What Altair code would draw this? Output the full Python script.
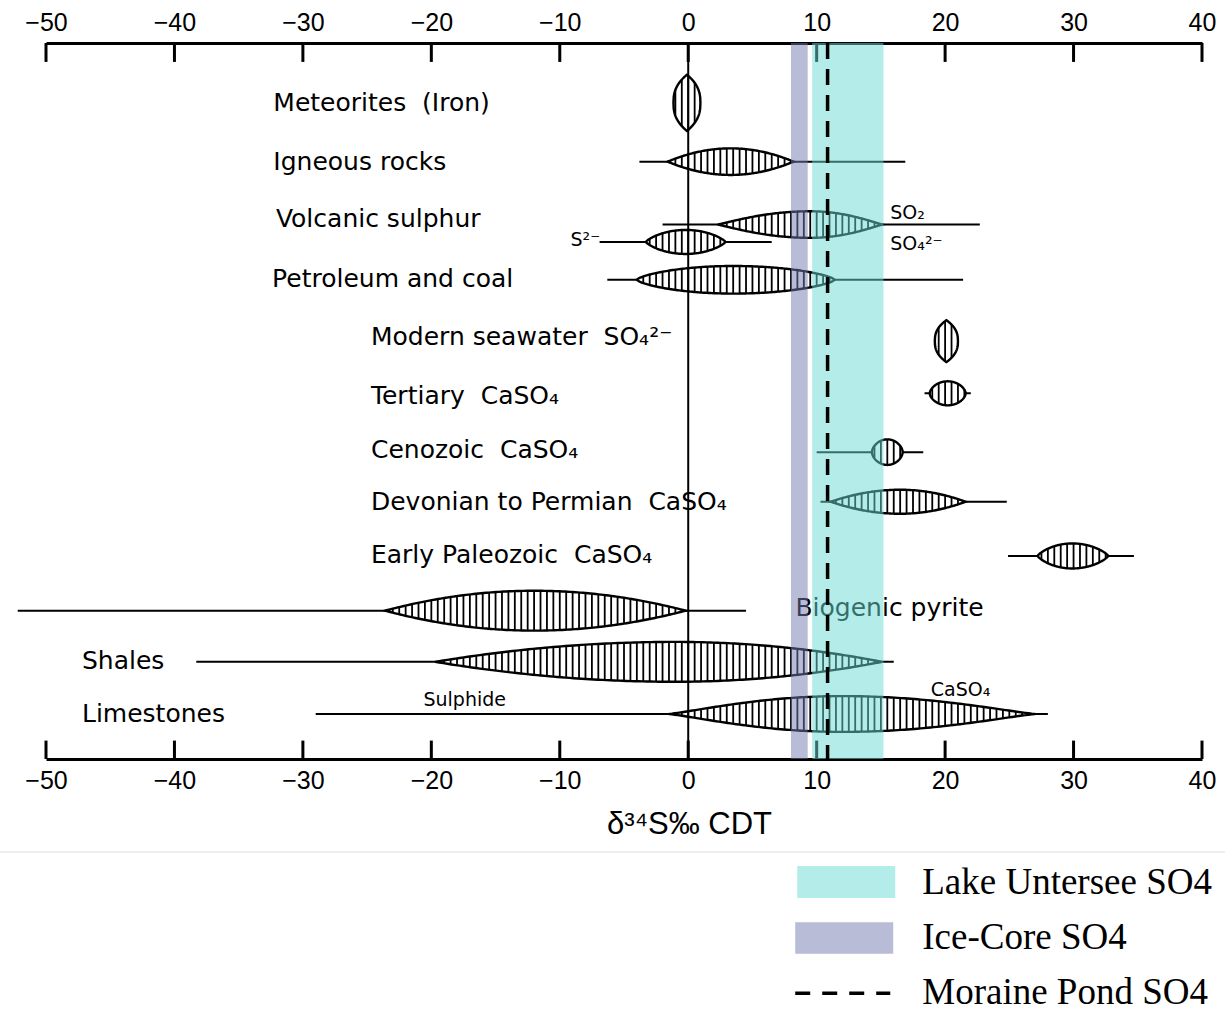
import altair as alt
import numpy as np
import pandas as pd

# ---------------- data ----------------
tick_values = [-50, -40, -30, -20, -10, 0, 10, 20, 30, 40]

row_names = ["Meteorites", "Igneous", "Volcanic SO2", "Volcanic S2-", "Petroleum",
             "Seawater", "Tertiary", "Cenozoic", "Devonian-Permian", "Early Paleozoic",
             "Biogenic pyrite", "Shales", "Limestones"]
row_pos = [1.17, 2.32, 3.55, 3.89, 4.63, 5.83, 6.85, 8.0, 8.97, 10.03, 11.1, 12.1, 13.12]
range_lo = [np.nan, -3.8, -2.0, -6.9, -6.3, np.nan, 18.4, 10.0, 10.3, 24.9, -52.2, -38.3, -29.0]
range_hi = [np.nan, 16.9, 22.7, 6.5, 21.4, np.nan, 22.0, 18.3, 24.8, 34.7, 4.5, 16.0, 28.0]
lens_lo = [-1.15, -1.6, 2.3, -3.3, -4.0, 19.2, 18.8, 14.3, 11.1, 27.2, -23.6, -19.7, -1.5]
lens_peak = [-0.1, 3.3, 9.5, -0.2, 3.5, 20.1, 20.2, 15.5, 16.5, 29.9, -12.0, -1.0, 12.0]
lens_hi = [0.95, 8.2, 15.1, 2.9, 11.4, 21.0, 21.6, 16.7, 21.6, 32.7, -0.2, 15.1, 27.0]
lens_thick = [0.55, 0.26, 0.26, 0.235, 0.27, 0.41, 0.235, 0.25, 0.235, 0.245, 0.39, 0.39, 0.35]
lens_shape = [0, 1.0, 1.1, 0.8, 0.7, 0, 0.6, 0.6, 1.0, 0.8, 1.0, 1.0, 1.2]  # 0 = upright lens

ice_core_band = [8.0, 9.3]
lake_untersee_band = [9.65, 15.2]
moraine_pond = 10.85

NB = "\u00a0"

# ---------------- geometry helpers ----------------
def half_thickness(x, lo, pk, hi, h, q):
    s = (pk - x) / (pk - lo) if x <= pk else (x - pk) / (hi - pk)
    s = min(max(s, 0.0), 1.0)
    if q == 0:
        return h * max(0.0, 1.0 - s) ** 0.4
    return h * max(0.0, 1.0 - s * s) ** q

area_rows, hatch_rows = [], []
for i in range(len(row_names)):
    lo, pk, hi, h, q, yc = lens_lo[i], lens_peak[i], lens_hi[i], lens_thick[i], lens_shape[i], row_pos[i]
    xs_ = np.unique(np.concatenate([np.linspace(lo, pk, 60), np.linspace(pk, hi, 60)]))
    for x in xs_:
        t = half_thickness(x, lo, pk, hi, h, q)
        area_rows.append({"id": i, "x": x, "top": yc - t, "bot": yc + t})
    start = np.ceil(lo / 0.5) * 0.5
    for x in np.arange(start, hi, 0.5):
        if x - lo < 0.08 or hi - x < 0.08:
            continue
        t = half_thickness(x, lo, pk, hi, h, q)
        hatch_rows.append({"x": x, "top": yc - t, "bot": yc + t})

area_df = pd.DataFrame(area_rows)
hatch_df = pd.DataFrame(hatch_rows)
range_df = pd.DataFrame({"lo": range_lo, "hi": range_hi, "y": row_pos}).dropna()

# ---------------- scales ----------------
xs = alt.Scale(domain=[-50, 40], nice=False, zero=False)
ys = alt.Scale(domain=[0, 14], reverse=True, nice=False, zero=False)

ax_common = dict(values=tick_values, ticks=False, tickSize=0, domain=True, domainColor="black",
                 domainWidth=3, grid=False, labelFont="Liberation Sans", labelFontSize=25,
                 labelColor="black", labelFlush=False, labelOverlap=False, labelBound=False,
                 title=None, format="d")

# faint frame of the pasted figure
frame = alt.Chart(pd.DataFrame({"x": [-53.6], "x2": [41.8], "y": [15.82]})).mark_rule(
    color="#e8e8e8", strokeWidth=1.5).encode(
    x=alt.X("x:Q", scale=xs, axis=None), x2="x2:Q", y=alt.Y("y:Q", scale=ys, axis=None))

ranges = alt.Chart(range_df).mark_rule(color="black", strokeWidth=2).encode(
    x=alt.X("lo:Q", scale=xs, axis=None), x2="hi:Q", y=alt.Y("y:Q", scale=ys, axis=None))

lenses = alt.Chart(area_df).mark_area(fill="white", stroke="black", strokeWidth=2.4,
                                      interpolate="linear", orient="vertical").encode(
    x=alt.X("x:Q", scale=xs, axis=None), y=alt.Y("top:Q", scale=ys, axis=None), y2="bot:Q",
    detail="id:N")

hatch = alt.Chart(hatch_df).mark_rule(color="black", strokeWidth=1.8).encode(
    x=alt.X("x:Q", scale=xs, axis=None), y=alt.Y("top:Q", scale=ys, axis=None), y2="bot:Q")

zero_line = alt.Chart(pd.DataFrame({"x": [0], "y": [0], "y2": [14]})).mark_rule(
    color="black", strokeWidth=2).encode(
    x=alt.X("x:Q", scale=xs, axis=None), y=alt.Y("y:Q", scale=ys, axis=None), y2="y2:Q")

tick_df = pd.DataFrame({"x": tick_values})
ticks_top = alt.Chart(tick_df).mark_rule(color="black", strokeWidth=3).encode(
    x=alt.X("x:Q", scale=xs, axis=alt.Axis(orient="top", labelPadding=8, **ax_common)),
    y=alt.Y("y0:Q", scale=ys, axis=None), y2="y1:Q"
).transform_calculate(y0="0", y1="0.37")
ticks_bottom = alt.Chart(tick_df).mark_rule(color="black", strokeWidth=3).encode(
    x=alt.X("x:Q", scale=xs, axis=alt.Axis(orient="bottom", labelPadding=9, **ax_common)),
    y=alt.Y("y0:Q", scale=ys, axis=None), y2="y1:Q"
).transform_calculate(y0="14", y1="13.64")

def text_layer(items, size, align, font="DejaVu Sans"):
    df = pd.DataFrame(items, columns=["t", "x", "y"])
    return alt.Chart(df).mark_text(align=align, baseline="middle", font=font, fontSize=size,
                                   color="black").encode(
        x=alt.X("x:Q", scale=xs, axis=None), y=alt.Y("y:Q", scale=ys, axis=None), text="t:N")

main_labels = text_layer([
    ("Meteorites" + NB + " (Iron)", -32.3, 1.17),
    ("Igneous rocks", -32.3, 2.32),
    ("Volcanic sulphur", -32.1, 3.44),
    ("Petroleum and coal", -32.4, 4.61),
    ("Modern seawater" + NB + " SO₄²⁻", -24.7, 5.75),
    ("Tertiary" + NB + " CaSO₄", -24.7, 6.9),
    ("Cenozoic" + NB + " CaSO₄", -24.7, 7.96),
    ("Devonian to Permian" + NB + " CaSO₄", -24.7, 8.98),
    ("Early Paleozoic" + NB + " CaSO₄", -24.7, 10.01),
    ("Biogenic pyrite", 8.35, 11.05),
    ("Shales", -47.2, 12.08),
    ("Limestones", -47.2, 13.12),
], 25, "left")

small_left = text_layer([("SO₂", 15.73, 3.32), ("SO₄²⁻", 15.73, 3.93)], 19, "left")
small_right = text_layer([("S²⁻", -6.85, 3.85)], 19, "right")
small_center = text_layer([("Sulphide", -17.4, 12.85), ("CaSO₄", 21.2, 12.65)], 19, "center")

band_df = pd.DataFrame({
    "name": ["Ice-Core", "Lake Untersee"],
    "x": [ice_core_band[0], lake_untersee_band[0]],
    "x2": [ice_core_band[1], lake_untersee_band[1]],
    "y": [0, 0], "y2": [14, 14]})
band_colors = alt.Scale(domain=["Ice-Core", "Lake Untersee"], range=["#7379ad", "#67d9d1"])
bands = alt.Chart(band_df).mark_rect(opacity=0.5).encode(
    x=alt.X("x:Q", scale=xs, axis=None), x2="x2:Q",
    y=alt.Y("y:Q", scale=ys, axis=None), y2="y2:Q",
    color=alt.Color("name:N", scale=band_colors, legend=None))

moraine = alt.Chart(pd.DataFrame({"x": [moraine_pond], "y": [0], "y2": [14]})).mark_rule(
    color="black", strokeWidth=3.5, strokeDash=[16, 10]).encode(
    x=alt.X("x:Q", scale=xs, axis=None), y=alt.Y("y:Q", scale=ys, axis=None), y2="y2:Q")

title = text_layer([("δ³⁴S‰ CDT", 0.1, 15.29)], 31, "center", font="Liberation Sans")

# ---------------- legend ----------------
leg_rect_df = pd.DataFrame({
    "name": ["Lake Untersee", "Ice-Core"],
    "x": [8.49, 8.33], "x2": [16.12, 15.96],
    "y": [16.09, 17.19], "y2": [16.72, 17.81]})
leg_rects = alt.Chart(leg_rect_df).mark_rect(opacity=0.5).encode(
    x=alt.X("x:Q", scale=xs, axis=None), x2="x2:Q",
    y=alt.Y("y:Q", scale=ys, axis=None), y2="y2:Q",
    color=alt.Color("name:N", scale=band_colors, legend=None))
leg_dash = alt.Chart(pd.DataFrame({"x": [8.33], "x2": [15.73], "y": [18.58]})).mark_rule(
    color="black", strokeWidth=3.5, strokeDash=[15, 12]).encode(
    x=alt.X("x:Q", scale=xs, axis=None), x2="x2:Q", y=alt.Y("y:Q", scale=ys, axis=None))
leg_text = text_layer([
    ("Lake Untersee SO4", 18.22, 16.43),
    ("Ice-Core SO4", 18.22, 17.50),
    ("Moraine Pond SO4", 18.22, 18.58),
], 37, "left", font="Liberation Serif")

chart = alt.layer(
    frame, ranges, lenses, hatch, zero_line, ticks_top, ticks_bottom,
    main_labels, small_left, small_right, small_center,
    bands, moraine, title, leg_rects, leg_dash, leg_text
).resolve_axis(x="independent").properties(
    width=1156, height=716,
    autosize=alt.AutoSizeParams(type="none"),
    padding={"left": 46, "top": 43, "right": 23, "bottom": 254},
    background="white",
).configure_view(stroke=None)

chart.save("out.html", embed_options={"renderer": "svg", "actions": False})
